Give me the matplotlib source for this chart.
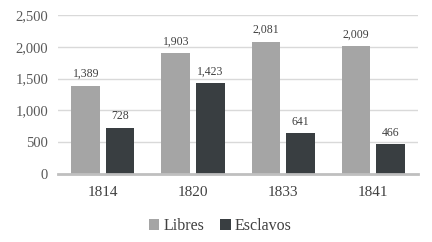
import matplotlib
matplotlib.use("Agg")
import matplotlib.pyplot as plt
import numpy as np

years = ["1814", "1820", "1833", "1841"]
libres = [1389, 1903, 2081, 2009]
esclavos = [728, 1423, 641, 466]
yticks = [0, 500, 1000, 1500, 2000, 2500]

plt.rcParams['font.family'] = ['Liberation Serif', 'DejaVu Serif']

fig = plt.figure(figsize=(4.32, 2.42), dpi=100)
ax = fig.add_axes([0.134, 0.281, 0.834, 0.657])

x = np.arange(len(years))
w = 0.32
b1 = ax.bar(x - w / 2 - 0.03, libres, w, color="#a5a5a5", label="Libres", zorder=3)
b2 = ax.bar(x + w / 2 + 0.03, esclavos, w, color="#393e41", label="Esclavos", zorder=3)

for bars, vals in ((b1, libres), (b2, esclavos)):
    for r, v in zip(bars, vals):
        ax.annotate(f"{v:,}", (r.get_x() + r.get_width() / 2, v), xytext=(0, 4),
                    textcoords="offset points", ha="center", va="bottom",
                    fontsize=8.5, color="#404040")

ax.set_xlim(-0.5, 3.5)
ax.set_ylim(0, 2500)
ax.set_yticks(yticks)
ax.set_yticklabels([f"{v:,}" for v in yticks], fontsize=10.5, color="#595959")
ax.set_xticks(x)
ax.set_xticklabels(years, fontsize=11, color="#404040")
ax.tick_params(length=0, pad=7)
ax.tick_params(axis="x", pad=9)
ax.grid(axis="y", color="#d9d9d9", linewidth=1, zorder=0)
for s in ("top", "right", "left"):
    ax.spines[s].set_visible(False)
ax.spines["bottom"].set_color("#bfbfbf")
ax.spines["bottom"].set_linewidth(2)
ax.spines["bottom"].set_zorder(4)

fig.legend(handles=[b1, b2], loc="center", bbox_to_anchor=(0.51, 0.065), ncol=2,
           frameon=False, fontsize=11.5, handlelength=0.65, handleheight=0.65,
           handletextpad=0.25, columnspacing=1.0, labelcolor="#404040")

fig.savefig("out.png", dpi=100)
